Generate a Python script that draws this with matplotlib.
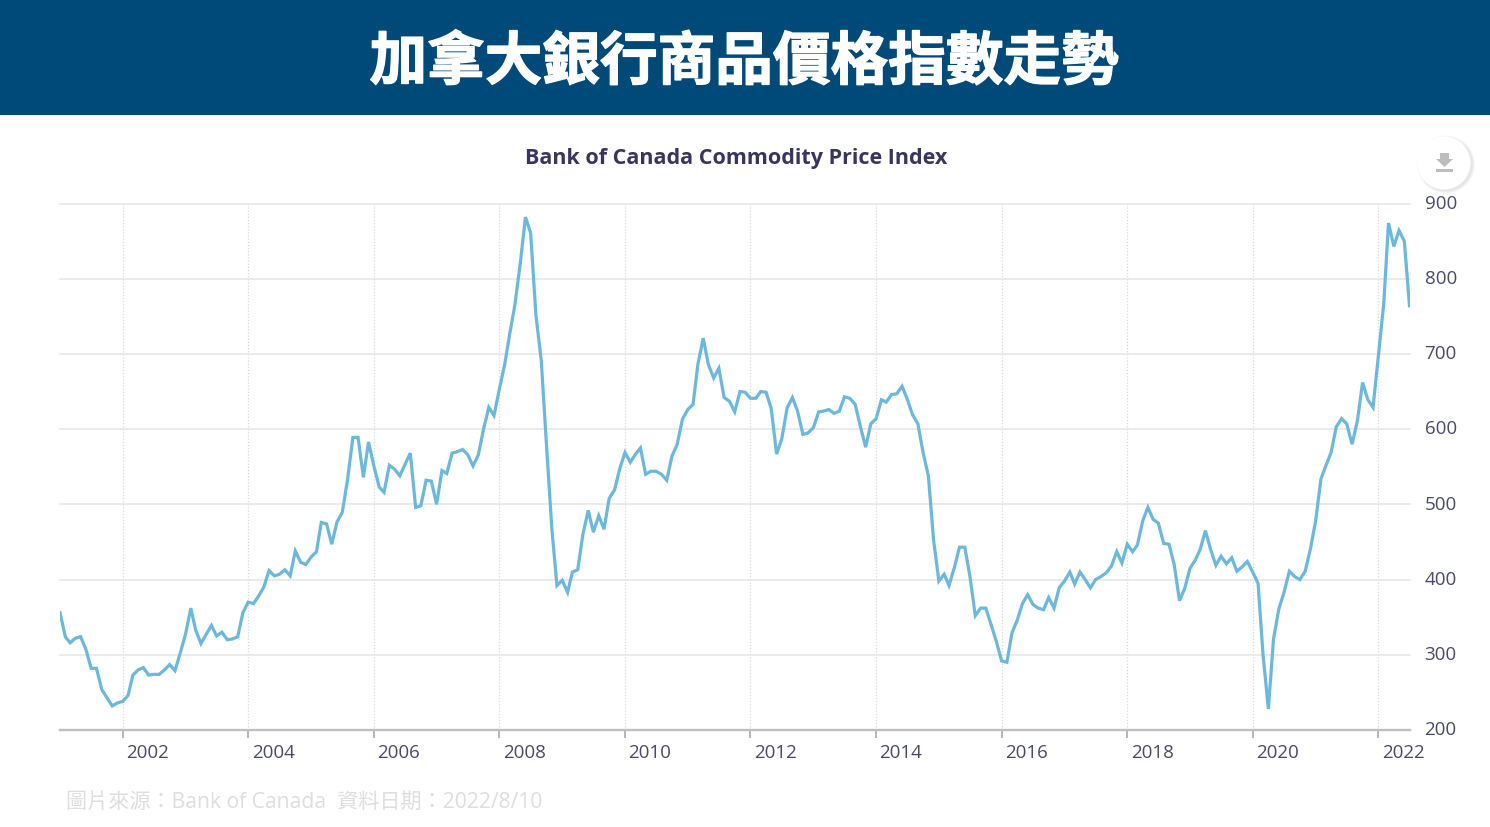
#! /usr/bin/python3

import matplotlib
matplotlib.use("Agg")
import matplotlib.pyplot as plt
import matplotlib.dates as mdates
import matplotlib.patheffects as pe
from matplotlib.patches import Circle, Polygon, Rectangle
from matplotlib.transforms import ScaledTranslation
import pandas

TITLE = "加拿大銀行商品價格指數走勢"
CHART_TITLE = "Bank of Canada Commodity Price Index"
SOURCE = "圖片來源：Bank of Canada  資料日期：2022/8/10"

FIRST_MONTH = "2001-01-01"
Y_TICKS = [200, 300, 400, 500, 600, 700, 800, 900]
X_TICK_YEARS = [2002, 2004, 2006, 2008, 2010, 2012, 2014, 2016, 2018, 2020, 2022]

# Monthly index values
values_2001_2004 = [
    356, 324, 316, 322, 324, 307, 282, 282, 254, 243, 232, 236,
    238, 246, 273, 280, 283, 273, 274, 274, 280, 287, 279, 302,
    327, 362, 333, 315, 327, 339, 325, 330, 320, 321, 324, 356,
    370, 368, 378, 390, 412, 405, 407, 413, 405, 438, 423, 420,
]
values_2005_2008 = [
    430, 437, 476, 474, 447, 477, 489, 533, 589, 589, 536, 583,
    551, 523, 516, 552, 547, 538, 553, 568, 496, 498, 532, 531,
    500, 545, 541, 568, 570, 573, 566, 551, 566, 600, 629, 618,
    653, 686, 726, 766, 819, 882, 861, 751, 691, 580, 469, 392,
]
values_2009_2012 = [
    399, 383, 410, 413, 460, 492, 463, 485, 467, 508, 519, 547,
    569, 556, 566, 575, 540, 544, 544, 540, 532, 564, 580, 613,
    626, 633, 686, 721, 686, 668, 681, 642, 637, 623, 650, 649,
    641, 641, 650, 649, 627, 567, 587, 628, 642, 624, 593, 595,
]
values_2013_2016 = [
    602, 623, 624, 626, 621, 624, 643, 641, 633, 604, 576, 607,
    614, 639, 636, 646, 647, 657, 640, 619, 607, 569, 538, 453,
    398, 407, 392, 416, 443, 443, 404, 352, 362, 362, 340, 318,
    292, 290, 329, 346, 368, 380, 367, 362, 360, 376, 362, 389,
]
values_2017_2020 = [
    398, 410, 394, 410, 400, 389, 400, 404, 409, 418, 437, 422,
    447, 437, 446, 478, 496, 480, 475, 448, 447, 420, 372, 388,
    415, 426, 440, 465, 440, 419, 431, 421, 429, 411, 417, 424,
    410, 395, 300, 228, 321, 361, 383, 411, 404, 400, 411, 440,
]
values_2021_2022 = [
    478, 534, 551, 569, 603, 614, 607, 580, 611, 662, 639, 629,
    698, 766, 874, 843, 864, 850, 764,
]

values = (values_2001_2004 + values_2005_2008 + values_2009_2012
          + values_2013_2016 + values_2017_2020 + values_2021_2022)

plt.rcParams['font.family'] = ['Open Sans', 'Noto Sans CJK TC', 'DejaVu Sans']

dates = pandas.date_range(FIRST_MONTH, periods=len(values), freq="MS")

fig = plt.figure(figsize=(14.9, 8.28), dpi=100)
ax = fig.add_axes([60 / 1490, (828 - 731) / 828, 1350 / 1490, 526.5 / 828])

ax.plot(dates, values, color="#6cb8dc", lw=2.3, solid_joinstyle="miter", zorder=3)

ax.set_xlim(dates[0], pandas.Timestamp("2022-07-04"))
ax.set_ylim(200, 900)

ax.set_yticks(Y_TICKS)
ax.set_xticks([pandas.Timestamp(year=y, month=1, day=1) for y in X_TICK_YEARS])
ax.xaxis.set_major_formatter(mdates.DateFormatter("%Y"))

ax.grid(axis="y", color="#e6e6e6", lw=1.1, zorder=1, clip_on=False)
ax.grid(axis="x", color="#d9d9d9", lw=0.9, ls=(0, (1, 1.5)), zorder=1)

for side in ["top", "left", "right"]:
    ax.spines[side].set_visible(False)
ax.spines["bottom"].set_color("#c0c0c0")
ax.spines["bottom"].set_linewidth(1.7)

ax.yaxis.tick_right()
ax.tick_params(axis="y", length=0, pad=10.5, labelsize=13.5, labelcolor="#4a4a6c")
ax.tick_params(axis="x", length=6, width=1.2, color="#aaaaaa", pad=3.5,
               labelsize=13.5, labelcolor="#4a4a6c")

# x labels sit right of their tick, y labels slightly above the grid line
shift_x = ScaledTranslation(2.5 / 72, 0, fig.dpi_scale_trans)
for label in ax.get_xticklabels():
    label.set_ha("left")
    label.set_transform(label.get_transform() + shift_x)
shift_y = ScaledTranslation(0, 2 / 72, fig.dpi_scale_trans)
for label in ax.get_yticklabels():
    label.set_transform(label.get_transform() + shift_y)

# Overlay in pixel coordinates for the banner, captions and download button
over = fig.add_axes([0, 0, 1, 1], zorder=5)
over.set_xlim(0, 1490)
over.set_ylim(828, 0)
over.axis("off")
over.patch.set_alpha(0)

over.add_patch(Rectangle((0, 0), 1490, 115.5, color="#004a7a", lw=0))
title = over.text(744, 63.5, TITLE, color="white", fontsize=41.5, fontweight="bold",
                  family=["Noto Sans CJK TC", "DejaVu Sans"], ha="center", va="center")
title.set_path_effects([pe.withStroke(linewidth=1.0, foreground="white")])

over.text(736, 158.5, CHART_TITLE, color="#3a3560", fontsize=15.5, fontweight="bold",
          family=["Open Sans", "DejaVu Sans"], ha="center", va="center")

over.text(66, 802, SOURCE, color="#dedede", fontsize=15.2,
          family=["Open Sans", "Noto Sans CJK TC", "DejaVu Sans"], ha="left", va="center")

# Download button
for grow, alpha in [(3.0, 0.05), (2.0, 0.07), (1.0, 0.09)]:
    over.add_patch(Circle((1446, 165.5), 26 + grow, color="#888888", alpha=alpha, lw=0))
over.add_patch(Circle((1444, 164), 26.5, color="white", lw=0))
over.add_patch(Polygon([(1440, 154), (1449, 154), (1449, 160), (1453, 160), (1444.5, 168),
                        (1436, 160), (1440, 160)], color="#bdbdbd", lw=0))
over.add_patch(Rectangle((1436, 170), 17, 2.5, color="#bdbdbd", lw=0))

fig.savefig("out.png", dpi=100)
